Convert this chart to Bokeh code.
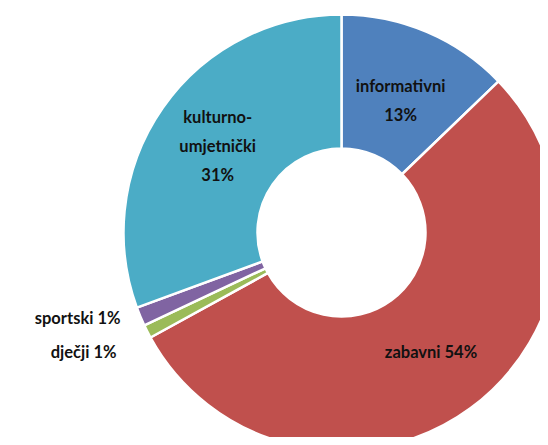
import math
from bokeh.plotting import figure
from bokeh.models import Range1d, ColumnDataSource
from bokeh.core.properties import value
from bokeh.embed import file_html
from bokeh.resources import INLINE

categories = ["informativni", "zabavni", "dječji", "sportski", "kulturno-umjetnički"]
values = [12.8, 54.2, 1.0, 1.4, 30.6]
label_pct = ["13%", "54%", "1%", "1%", "31%"]
colors = ["#4F81BD", "#C0504D", "#9BBB59", "#8064A2", "#4BACC6"]

W, H = 540, 437
cx, cy = 341, 232  # centre in plot pixels from left/top
R_OUT, R_IN = 218, 84

p = figure(width=W, height=H, output_backend="svg", toolbar_location=None,
           x_range=Range1d(-cx, W - cx), y_range=Range1d(-(H - cy), cy),
           min_border=0)
p.axis.visible = False
p.grid.visible = False
p.outline_line_color = None
p.background_fill_color = "white"

total = sum(values)
starts, ends, mids = [], [], []
acc = 0.0
for v in values:
    t1 = acc / total * 2 * math.pi
    acc += v
    t2 = acc / total * 2 * math.pi
    starts.append(math.pi / 2 - t2)
    ends.append(math.pi / 2 - t1)
    mids.append((t1 + t2) / 2)

src = ColumnDataSource(dict(start=starts, end=ends, color=colors))
p.annular_wedge(x=0, y=0, inner_radius=R_IN, outer_radius=R_OUT,
                start_angle="start", end_angle="end", fill_color="color",
                line_color="white", line_width=2.5, source=src)

font = value("Lato")
def lab(x, y, txt, align="center"):
    p.text(x=[x], y=[y], text=[txt], text_font=font, text_font_style="bold",
           text_font_size="16.5px", text_color="#111111", text_align=align,
           text_baseline="middle")

r_lab = 151
lh = 29
a = mids[0]
x0, y0 = r_lab * math.sin(a), r_lab * math.cos(a) - 7
lab(x0, y0 + lh / 2, categories[0])
lab(x0, y0 - lh / 2, label_pct[0])
a = mids[1]
x0, y0 = r_lab * math.sin(a), r_lab * math.cos(a)
lab(x0, y0 + 2, categories[1] + " " + label_pct[1])
a = mids[4]
x0, y0 = r_lab * math.sin(a), r_lab * math.cos(a)
lab(x0, y0 + lh, "kulturno-")
lab(x0, y0, "umjetnički")
lab(x0, y0 - lh, label_pct[4])
lab(-221, -85, categories[3] + " " + label_pct[3], "right")
lab(-225, -119, categories[2] + " " + label_pct[2], "right")

open("out.html", "w").write(file_html(p, INLINE))
